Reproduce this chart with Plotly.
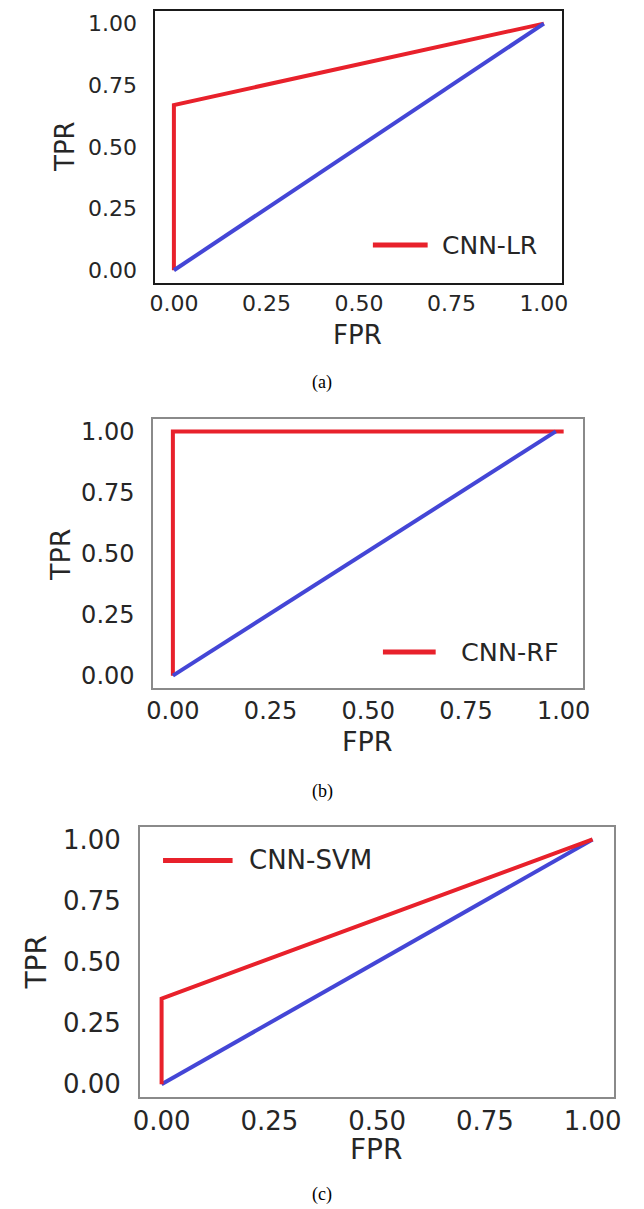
import plotly.graph_objects as go

# ---- data ----
fpr_lr = [0.0, 0.0, 1.0]
tpr_lr = [0.0, 0.67, 1.0]
fpr_rf = [0.0, 0.0, 1.0]
tpr_rf = [0.0, 1.0, 1.0]
fpr_svm = [0.0, 0.0, 1.0]
tpr_svm = [0.0, 0.35, 1.0]
chance_a_x = [0.0, 1.0]
chance_a_y = [0.0, 1.0]
chance_b_x = [0.0, 0.98]
chance_b_y = [0.0, 1.0]
chance_c_x = [0.0, 1.0]
chance_c_y = [0.0, 1.0]
tick_vals = [0.0, 0.25, 0.5, 0.75, 1.0]
tick_text = ["0.00", "0.25", "0.50", "0.75", "1.00"]
names = ["CNN-LR", "CNN-RF", "CNN-SVM"]
captions = ["(a)", "(b)", "(c)"]

W, H = 644, 1209
RED = "#e8212b"
BLUE = "#4446d6"
TXT = "#262626"

fig = go.Figure()

panels = [
    dict(fx=(151.7, 567.7), fy=(8.3, 281.0), frame="#1a1a1a", tf=22, lf=26, gf=25,
         fpr=fpr_lr, tpr=tpr_lr, cx=chance_a_x, cy=chance_a_y, red_top=False,
         leg=(0.5344, 0.6690, 0.1382, 0.7002), fprpos=(358, 334), tprpos=(60, 144), cap=(322, 381)),
    dict(fx=(149.6, 589.0), fy=(418.3, 688.3), frame="#8a8a8a", tf=24, lf=27, gf=25.5,
         fpr=fpr_rf, tpr=tpr_rf, cx=chance_b_x, cy=chance_b_y, red_top=False,
         leg=(0.5341, 0.6568, 0.1333, 0.7101), fprpos=(369, 742), tprpos=(54, 554), cap=(322, 792)),
    dict(fx=(136.0, 620.6), fy=(828.3, 1099.0), frame="#8a8a8a", tf=26, lf=28, gf=26,
         fpr=fpr_svm, tpr=tpr_svm, cx=chance_c_x, cy=chance_c_y, red_top=True,
         leg=(0.0485, 0.1952, 0.8766, 0.2266), fprpos=(377, 1152), tprpos=(30, 964), cap=(322, 1197)),
]

shapes = []
annotations = []
for i, p in enumerate(panels):
    n = "" if i == 0 else str(i + 1)
    xa, ya = "x" + n, "y" + n
    red = go.Scatter(x=p["fpr"], y=p["tpr"], mode="lines", name=names[i],
                     line=dict(color=RED, width=4), xaxis=xa, yaxis=ya, showlegend=False)
    blue = go.Scatter(x=p["cx"], y=p["cy"], mode="lines", name="chance",
                      line=dict(color=BLUE, width=4), xaxis=xa, yaxis=ya, showlegend=False)
    if p["red_top"]:
        fig.add_trace(blue); fig.add_trace(red)
    else:
        fig.add_trace(red); fig.add_trace(blue)

    dom_x = [p["fx"][0] / W, p["fx"][1] / W]
    dom_y = [1 - p["fy"][1] / H, 1 - p["fy"][0] / H]
    common = dict(range=[-0.05, 1.05], showgrid=False, zeroline=False, showline=True,
                  mirror=True, linecolor=p["frame"], linewidth=2, ticks="",
                  tickvals=tick_vals, ticktext=tick_text,
                  tickfont=dict(family="DejaVu Sans", size=p["tf"], color=TXT))
    fig.update_layout(**{
        "xaxis" + n: dict(domain=dom_x, anchor=ya, ticklabelstandoff=0, **common),
        "yaxis" + n: dict(domain=dom_y, anchor=xa, ticklabelstandoff=12, **common),
    })

    lx0, lx1, ly, tx = p["leg"]
    shapes.append(dict(type="line", xref=xa + " domain", yref=ya + " domain",
                       x0=lx0, x1=lx1, y0=ly, y1=ly, line=dict(color=RED, width=5)))
    annotations.append(dict(text=names[i], xref=xa + " domain", yref=ya + " domain",
                            x=tx, y=ly, xanchor="left", yanchor="middle", showarrow=False,
                            font=dict(family="DejaVu Sans", size=p["gf"], color=TXT)))
    annotations.append(dict(text="FPR", xref="paper", yref="paper",
                            x=p["fprpos"][0] / W, y=1 - p["fprpos"][1] / H,
                            xanchor="center", yanchor="middle", showarrow=False,
                            font=dict(family="DejaVu Sans", size=p["lf"], color=TXT)))
    annotations.append(dict(text="TPR", xref="paper", yref="paper", textangle=-90,
                            x=p["tprpos"][0] / W, y=1 - p["tprpos"][1] / H,
                            xanchor="center", yanchor="middle", showarrow=False,
                            font=dict(family="DejaVu Sans", size=p["lf"], color=TXT)))
    annotations.append(dict(text=captions[i], xref="paper", yref="paper",
                            x=p["cap"][0] / W, y=1 - p["cap"][1] / H,
                            xanchor="center", yanchor="middle", showarrow=False,
                            font=dict(family="Liberation Serif", size=18, color="#000000")))

fig.update_layout(width=W, height=H, margin=dict(l=0, r=0, t=0, b=0),
                  paper_bgcolor="white", plot_bgcolor="white", showlegend=False,
                  shapes=shapes, annotations=annotations)

fig.write_html("out.html")
